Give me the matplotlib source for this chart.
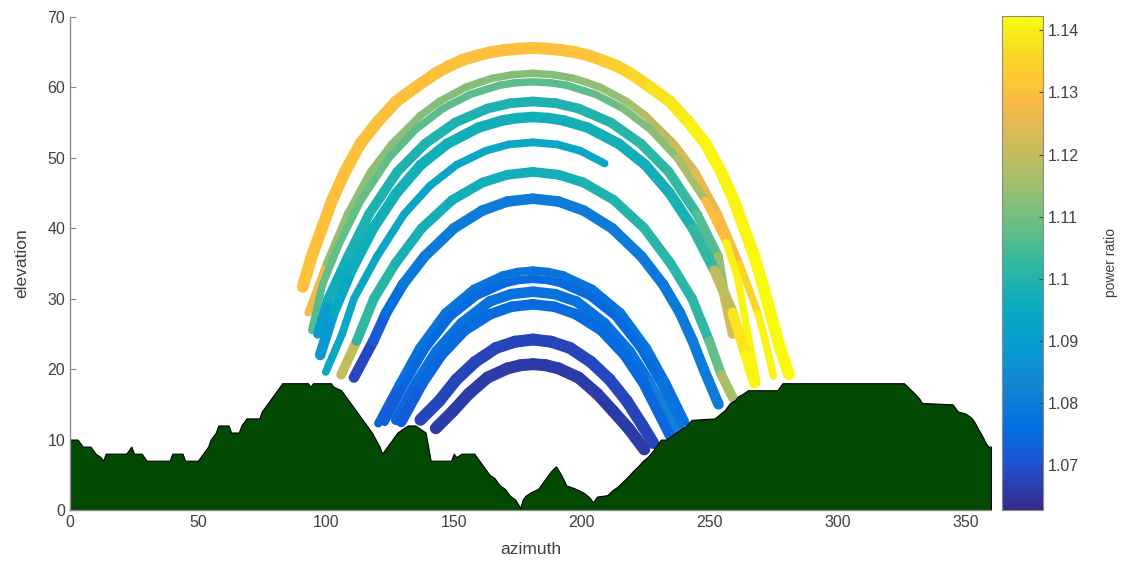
import numpy as np
import matplotlib
matplotlib.use('Agg')
import matplotlib.pyplot as plt
from matplotlib.collections import LineCollection
from matplotlib.colors import LinearSegmentedColormap, Normalize
from matplotlib.cm import ScalarMappable

plt.rcParams['font.family'] = ['Liberation Sans', 'DejaVu Sans']

# horizon profile (azimuth, elevation)
horizon_az = [0, 3, 5, 8, 10, 12, 13, 14, 22, 24, 25, 28, 30, 39, 40, 44, 45, 50, 52, 54, 55, 57, 58,
              62, 63, 66, 67, 69, 74, 75, 77, 79, 81, 83, 93, 94, 95, 102, 103, 106, 108, 110, 112,
              114, 116, 118, 119.5, 121, 122, 124, 126, 128, 130, 132, 135, 137, 139, 140, 141, 149,
              150, 151, 153, 158, 160, 162, 164, 166, 168, 170, 172, 174, 176, 177, 178, 180, 183,
              186, 188, 190, 192, 194, 197, 199, 201, 203, 204.5, 206, 210, 212, 214, 216, 218, 220,
              222, 224, 226, 228, 230, 231, 233, 235, 237, 239, 241, 243, 252, 254, 256, 258, 260,
              261, 263, 265, 276.5, 278.5, 326, 328, 330, 332, 333, 345, 347, 350, 352, 353, 354,
              355, 356, 357, 358, 359, 360]
horizon_el = [10, 10, 9, 9, 8, 7.5, 7, 8, 8, 9, 8, 8, 7, 7, 8, 8, 7, 7, 8, 9, 10, 11, 12,
              12, 11, 11, 12, 13, 13, 14, 15, 16, 17, 18, 18, 17.5, 18, 18, 17.5, 17, 16, 15, 14,
              13, 12, 11, 10, 9, 8, 9, 10, 11, 11.5, 12, 12, 11.5, 11, 9, 7, 7,
              8, 7.5, 8, 8, 7, 6, 5, 4.5, 3.5, 3, 2, 1.5, 0.3, 1.5, 2, 2.5, 3,
              4.5, 5.5, 6.2, 5, 3.5, 3.1, 2.8, 2.4, 1.8, 1.1, 1.9, 2.1, 2.8, 3.3, 4, 4.7, 5.5,
              6.2, 7, 7.6, 8.5, 9.5, 10, 10, 10.5, 11, 11.5, 12, 12.8, 13, 13.6, 14.2, 15.2, 15.6,
              16.1, 16.5, 17, 17, 18, 18, 17.3, 16.6, 15.8, 15.2, 15, 14, 13.7, 13.2, 12.8, 12.2,
              11.5, 10.9, 10.2, 9.5, 9, 9]

# sun path bands: azimuth, elevation, power ratio
a_az = [91, 94.5, 98.5, 102.5, 107.5, 113.5, 120, 127.5, 135, 143, 148, 153.5, 159, 164.5, 170, 175.5, 181,
        186.5, 192, 197.5, 203, 208.5, 214, 219, 227, 234.5, 242, 248.5, 254.5, 259.5, 263.5, 267.5,
        271, 274.5, 277.5, 281]
a_el = [31.7, 36, 40, 44, 48, 52, 55, 58, 60, 62, 63, 63.9, 64.5, 65.0, 65.3, 65.5, 65.6,
        65.5, 65.3, 65.0, 64.5, 63.8, 63, 62, 60, 58, 55, 52, 48, 44, 40, 36,
        31.7, 27, 23, 19.3]
a_val = [1.131, 1.130, 1.130, 1.130, 1.130, 1.130, 1.130, 1.130, 1.130, 1.130, 1.130, 1.130, 1.130, 1.130,
         1.130, 1.130, 1.130,
         1.130, 1.130, 1.131, 1.131, 1.132, 1.133, 1.135, 1.137, 1.138, 1.140, 1.141, 1.141, 1.141,
         1.141, 1.142, 1.142, 1.142, 1.142, 1.142]

b1_az = [93.1, 100.3, 108.5, 117.5, 125.9, 137, 144.4, 154.6, 160, 165.2, 173, 181,
         189, 196.8, 202, 207.4, 217.6, 225, 236.1, 244.5, 253.5, 261.7, 268.9, 271.8, 275]
b1_el = [28, 35, 42, 48, 52, 56, 58, 60, 60.7, 61.3, 61.8, 62,
         61.8, 61.3, 60.7, 60, 58, 56, 52, 48, 42, 35, 28, 24, 19]
b1_val = [1.140, 1.115, 1.113, 1.113, 1.113, 1.112, 1.112, 1.112, 1.112, 1.112, 1.112, 1.112,
          1.112, 1.112, 1.113, 1.113, 1.115, 1.117, 1.120, 1.124, 1.127, 1.130, 1.140, 1.141, 1.141]

b2_az = [94.5, 98.7, 105.5, 113.8, 124.7, 135, 145.8, 156.4, 167.8, 174, 181,
         188, 194.2, 205.6, 216.2, 227, 237.3, 248.2, 256.5, 261, 264.5, 268.5]
b2_el = [25.5, 32, 38, 44, 50, 54, 57, 59, 60.3, 60.65, 60.8,
         60.65, 60.3, 59, 57, 54, 50, 44, 38, 33, 26, 18]
b2_val = [1.105, 1.108, 1.108, 1.108, 1.108, 1.107, 1.107, 1.107, 1.107, 1.107, 1.107,
          1.107, 1.107, 1.108, 1.110, 1.112, 1.114, 1.118, 1.140, 1.141, 1.141, 1.141]

c_az = [96.9, 101, 108.7, 116.9, 127.9, 138.8, 150.5, 163.2, 172, 181,
        190, 198.8, 211.5, 223.2, 234.1, 245.1, 253.3, 256, 259]
c_el = [25, 30, 36, 42, 48, 52, 55, 57, 57.75, 58,
        57.75, 57, 55, 52, 48, 42, 36, 30, 25]
c_val = [1.085, 1.095, 1.098, 1.099, 1.099, 1.099, 1.099, 1.099, 1.099, 1.099,
         1.099, 1.099, 1.100, 1.101, 1.102, 1.104, 1.108, 1.120, 1.126]

d_az = [97.8, 103, 110, 118.5, 127.6, 137.1, 147.5, 159.7, 169, 175, 181,
        187, 193, 202.3, 214.5, 224.9, 234.4, 243.5, 252, 259, 264.2, 267.5]
d_el = [22, 28, 34, 40, 45, 49, 52, 54.3, 55.3, 55.65, 55.8,
        55.65, 55.3, 54.3, 52, 49, 45, 40, 34, 28, 22, 18]
d_val = [1.085, 1.092, 1.096, 1.097, 1.097, 1.097, 1.097, 1.097, 1.097, 1.097, 1.097,
         1.097, 1.097, 1.097, 1.097, 1.097, 1.097, 1.100, 1.105, 1.135, 1.141, 1.141]

e_az = [100, 106.4, 111, 120, 130.6, 140.6, 151.1, 162.5, 171.5, 181, 190.5, 199.5, 209]
e_el = [19.6, 25, 30, 36, 42, 46, 49, 51, 51.9, 52.2, 51.9, 51, 49.2]
e_val = [1.095, 1.093, 1.093, 1.093, 1.093, 1.093, 1.093, 1.093, 1.093, 1.093, 1.093, 1.093, 1.093]

f_az = [106, 112.1, 118.8, 127.2, 137.5, 149.4, 161.3, 171, 181,
        191, 200.7, 212.6, 224.5, 234.8, 243.2, 249.9, 254.6, 259]
f_el = [19.2, 24, 30, 35, 40, 44, 46.5, 47.6, 48,
        47.6, 46.5, 44, 40, 35, 30, 24, 19.2, 16]
f_val = [1.140, 1.100, 1.104, 1.098, 1.098, 1.097, 1.097, 1.097, 1.097,
         1.097, 1.098, 1.100, 1.100, 1.102, 1.100, 1.104, 1.112, 1.120]

g_az = [111, 118.6, 123.6, 130.1, 138.6, 150.1, 161.1, 171, 181,
        191, 200.9, 211.9, 223.4, 231.9, 238.4, 243.4, 247.7, 253.5]
g_el = [18.8, 24, 28, 32, 36, 40, 42.5, 43.8, 44.2,
        43.8, 42.5, 40, 36, 32, 28, 24, 20, 15]
g_val = [1.067, 1.070, 1.074, 1.078, 1.080, 1.080, 1.080, 1.080, 1.080,
         1.080, 1.080, 1.080, 1.080, 1.079, 1.079, 1.080, 1.080, 1.080]

h1_az = [120.5, 128.9, 136.5, 146.6, 157.8, 169.1, 175, 181, 187, 192.9, 204.2, 215.4, 225.5, 233.1, 240.5]
h1_el = [12.3, 18, 23, 28, 31.4, 33.3, 33.8, 34.0, 33.8, 33.3, 31.4, 28, 23, 18, 12.5]
h1_val = [1.071, 1.076, 1.078, 1.078, 1.078, 1.078, 1.078, 1.078, 1.078, 1.078, 1.078, 1.078, 1.078,
          1.077, 1.077]

h2_az = [123, 131, 139.1, 148.8, 158.9, 170, 175.5, 181, 186.5, 192, 203.1, 213.2, 222.9, 231, 238.5]
h2_el = [12.5, 18, 23, 27.5, 30.4, 32.2, 32.65, 32.8, 32.65, 32.2, 30.4, 27.5, 23, 18, 11.8]
h2_val = [1.071, 1.074, 1.075, 1.075, 1.075, 1.075, 1.075, 1.075, 1.075, 1.075, 1.075, 1.075, 1.075,
          1.076, 1.080]

h3_az = [127.5, 135.3, 143.2, 153, 164, 172.5, 181, 189.5, 198, 209, 218.8, 226.7, 236.5]
h3_el = [12.8, 18, 22.5, 26.5, 29.6, 30.65, 31.0, 30.65, 29.6, 26.5, 22.5, 18, 11.2]
h3_val = [1.072, 1.076, 1.077, 1.077, 1.077, 1.077, 1.077, 1.077, 1.077, 1.077, 1.077, 1.078, 1.085]

h4_az = [129.5, 137.8, 145.2, 154.3, 164.3, 172.5, 181, 189.5, 197.7, 207.7, 216.8, 224.2, 234.5]
h4_el = [12.5, 18, 22, 25.5, 27.8, 28.85, 29.2, 28.85, 27.8, 25.5, 22, 18, 10.6]
h4_val = [1.071, 1.074, 1.075, 1.075, 1.075, 1.075, 1.075, 1.075, 1.075, 1.075, 1.075, 1.075, 1.074]

i_az = [137, 144.4, 151, 158.3, 166.5, 174, 181, 188, 195.5, 203.7, 211, 217.6, 223.8, 228]
i_el = [12.8, 15.5, 18.5, 21, 23, 23.9, 24.2, 23.9, 23, 21, 18.5, 15.5, 12, 9.5]
i_val = [1.068, 1.068, 1.068, 1.068, 1.068, 1.068, 1.068, 1.068, 1.068, 1.068, 1.069, 1.068, 1.068, 1.068]

j_az = [143, 149.6, 155.9, 163.2, 171, 176, 181, 186, 191, 198.8, 206.1, 212.4, 218.3, 224.5]
j_el = [11.6, 14, 16.5, 18.8, 20.1, 20.55, 20.7, 20.55, 20.1, 18.8, 16.5, 14, 11.6, 8.6]
j_val = [1.066, 1.066, 1.066, 1.066, 1.066, 1.066, 1.066, 1.066, 1.066, 1.066, 1.066, 1.066, 1.066, 1.066]

bands = [
    (a_az, a_el, a_val, 8.6),
    (b1_az, b1_el, b1_val, 5.4),
    (b2_az, b2_el, b2_val, 5.4),
    (c_az, c_el, c_val, 7.0),
    (d_az, d_el, d_val, 7.6),
    (e_az, e_el, e_val, 5.6),
    (f_az, f_el, f_val, 7.0),
    (g_az, g_el, g_val, 7.6),
    (h1_az, h1_el, h1_val, 6.0),
    (h2_az, h2_el, h2_val, 6.0),
    (h3_az, h3_el, h3_val, 7.6),
    (h4_az, h4_el, h4_val, 7.6),
    (i_az, i_el, i_val, 8.6),
    (j_az, j_el, j_val, 8.6),
]

cbar_min, cbar_max = 1.0628, 1.1423
cbar_ticks = [1.07, 1.08, 1.09, 1.10, 1.11, 1.12, 1.13, 1.14]

# parula-like colour stops (index out of 63)
parula_stops = [
    (0, (0.2081, 0.1663, 0.5292)),
    (6, (0.1253, 0.3242, 0.8303)),
    (10, (0.0165, 0.4266, 0.8786)),
    (16, (0.0793, 0.5200, 0.8312)),
    (21, (0.0265, 0.6137, 0.8135)),
    (26, (0.0384, 0.6743, 0.7436)),
    (31, (0.1801, 0.7177, 0.6424)),
    (36, (0.3953, 0.7459, 0.5244)),
    (42, (0.6473, 0.7456, 0.4188)),
    (48, (0.8507, 0.7299, 0.3360)),
    (52, (0.9739, 0.7314, 0.2666)),
    (54, (0.9990, 0.7653, 0.2164)),
    (58, (0.9697, 0.8481, 0.1475)),
    (63, (0.9763, 0.9831, 0.0538)),
]
parula = LinearSegmentedColormap.from_list('parula', [(i / 63, c) for i, c in parula_stops])
norm = Normalize(cbar_min, cbar_max)

fig = plt.figure(figsize=(11.21, 5.70), dpi=100)
ax = fig.add_axes([0.0624, 0.1053, 0.8216, 0.8649])

for az, el, val, lw in bands:
    pts = np.column_stack([az, el])
    segs = np.stack([pts[:-1], pts[1:]], axis=1)
    v = (np.array(val[:-1]) + np.array(val[1:])) / 2
    lc = LineCollection(segs, colors=parula(norm(v)), linewidths=lw,
                        capstyle='round', joinstyle='round', zorder=2)
    ax.add_collection(lc)

ax.fill_between(horizon_az, 0, horizon_el, color='#024a03', edgecolor='black',
                linewidth=0.8, zorder=3)

ax.set_xlim(0, 360)
ax.set_ylim(0, 70)
ax.set_xticks(range(0, 361, 50))
ax.set_yticks(range(0, 71, 10))
for s in ['top', 'right']:
    ax.spines[s].set_visible(False)
for s in ['left', 'bottom']:
    ax.spines[s].set_color('#8a8a8a')
    ax.spines[s].set_linewidth(1.0)
    ax.spines[s].set_zorder(4)
ax.tick_params(direction='in', length=4, colors='#8a8a8a', labelcolor='#404040', labelsize=11.5)
ax.set_xlabel('azimuth', fontsize=12.5, color='#404040', labelpad=9)
ax.set_ylabel('elevation', fontsize=12.5, color='#404040', labelpad=13)

cax = fig.add_axes([0.8938, 0.1053, 0.0366, 0.8667])
sm = ScalarMappable(norm=norm, cmap=parula)
cb = fig.colorbar(sm, cax=cax, ticks=cbar_ticks)
cb.ax.set_yticklabels([f'{t:g}' for t in cbar_ticks])
cb.ax.tick_params(direction='in', length=3, colors='#404040', labelcolor='#404040', labelsize=11.5)
cb.outline.set_edgecolor('#8a8a8a')
cb.set_label('power ratio', fontsize=10, color='#404040', labelpad=18)

fig.savefig('out.png', dpi=100)
